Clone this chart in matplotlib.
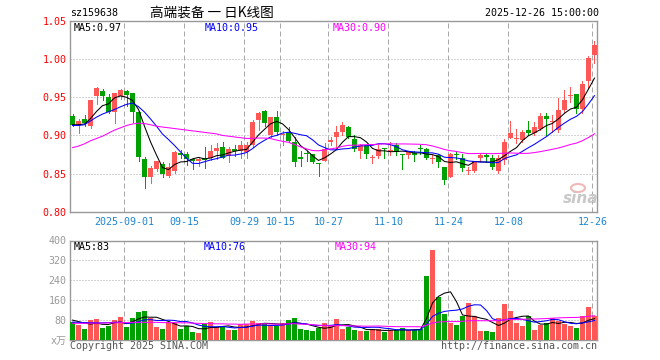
import matplotlib
matplotlib.use("Agg")
import matplotlib.pyplot as plt
import numpy as np
import pandas as pd
from matplotlib.patches import Ellipse

# ---------------- data ----------------
code = "sz159638"
title = "高端装备 一 日K线图"
timestamp = "2025-12-26 15:00:00"

opens = [0.926, 0.914, 0.921, 0.912, 0.952, 0.958, 0.950, 0.931, 0.952, 0.958,
         0.955, 0.931, 0.869, 0.845, 0.856, 0.863, 0.847, 0.853, 0.877, 0.875,
         0.869, 0.866, 0.871, 0.871, 0.880, 0.885, 0.873, 0.882, 0.879, 0.878,
         0.887, 0.920, 0.932, 0.900, 0.924, 0.900, 0.904, 0.891, 0.872, 0.876,
         0.875, 0.863, 0.867, 0.891, 0.898, 0.904, 0.911, 0.895, 0.880, 0.887,
         0.871, 0.873, 0.884, 0.880, 0.887, 0.875, 0.874, 0.877, 0.883, 0.882,
         0.869, 0.874, 0.859, 0.846, 0.875, 0.871, 0.854, 0.853, 0.870, 0.874,
         0.871, 0.854, 0.868, 0.897, 0.895, 0.894, 0.907, 0.903, 0.909, 0.925,
         0.917, 0.907, 0.933, 0.952, 0.954, 0.934, 0.971, 1.006]
highs = [0.928, 0.922, 0.927, 0.947, 0.964, 0.961, 0.954, 0.956, 0.961, 0.960,
         0.956, 0.932, 0.872, 0.860, 0.867, 0.865, 0.864, 0.879, 0.881, 0.878,
         0.871, 0.871, 0.885, 0.887, 0.890, 0.891, 0.885, 0.887, 0.893, 0.891,
         0.920, 0.931, 0.933, 0.924, 0.932, 0.906, 0.911, 0.898, 0.880, 0.879,
         0.876, 0.863, 0.890, 0.898, 0.912, 0.917, 0.912, 0.900, 0.889, 0.887,
         0.874, 0.887, 0.884, 0.891, 0.890, 0.875, 0.880, 0.880, 0.887, 0.883,
         0.874, 0.876, 0.859, 0.877, 0.880, 0.876, 0.858, 0.867, 0.877, 0.877,
         0.874, 0.874, 0.895, 0.919, 0.908, 0.907, 0.919, 0.918, 0.929, 0.930,
         0.927, 0.949, 0.960, 0.964, 0.954, 0.971, 1.004, 1.024]
lows = [0.912, 0.903, 0.913, 0.910, 0.941, 0.947, 0.929, 0.916, 0.948, 0.938,
        0.918, 0.867, 0.831, 0.838, 0.853, 0.846, 0.845, 0.851, 0.871, 0.861,
        0.856, 0.860, 0.857, 0.868, 0.869, 0.870, 0.865, 0.873, 0.871, 0.871,
        0.885, 0.907, 0.913, 0.898, 0.900, 0.887, 0.891, 0.860, 0.860, 0.867,
        0.864, 0.847, 0.867, 0.887, 0.882, 0.900, 0.896, 0.880, 0.871, 0.871,
        0.864, 0.871, 0.870, 0.874, 0.874, 0.856, 0.871, 0.867, 0.876, 0.869,
        0.864, 0.858, 0.836, 0.845, 0.869, 0.854, 0.849, 0.852, 0.867, 0.865,
        0.856, 0.851, 0.862, 0.896, 0.890, 0.892, 0.900, 0.900, 0.907, 0.900,
        0.904, 0.905, 0.931, 0.944, 0.930, 0.929, 0.962, 0.995]
closes = [0.914, 0.919, 0.916, 0.946, 0.962, 0.952, 0.931, 0.955, 0.959, 0.953,
          0.931, 0.872, 0.845, 0.857, 0.866, 0.849, 0.859, 0.878, 0.874, 0.869,
          0.866, 0.869, 0.868, 0.880, 0.884, 0.871, 0.882, 0.879, 0.888, 0.888,
          0.918, 0.930, 0.916, 0.924, 0.904, 0.902, 0.893, 0.865, 0.869, 0.875,
          0.865, 0.862, 0.882, 0.894, 0.904, 0.914, 0.898, 0.882, 0.887, 0.876,
          0.872, 0.882, 0.882, 0.881, 0.878, 0.874, 0.878, 0.874, 0.882, 0.870,
          0.870, 0.865, 0.842, 0.876, 0.874, 0.857, 0.855, 0.867, 0.874, 0.872,
          0.858, 0.871, 0.892, 0.903, 0.896, 0.904, 0.903, 0.911, 0.925, 0.922,
          0.918, 0.933, 0.947, 0.953, 0.934, 0.968, 1.002, 1.019]
volumes = [72, 59, 44, 80, 84, 48, 56, 80, 92, 52,
           88, 112, 118, 88, 52, 44, 72, 68, 44, 56,
           32, 28, 64, 72, 54, 54, 40, 40, 64, 64,
           76, 68, 64, 60, 56, 68, 80, 88, 44, 40,
           36, 48, 68, 60, 84, 44, 54, 40, 36, 36,
           44, 44, 32, 40, 40, 48, 40, 40, 44, 258,
           362, 173, 105, 70, 60, 96, 150, 98, 36, 36,
           32, 90, 145, 118, 68, 56, 96, 40, 60, 68,
           88, 76, 64, 56, 48, 96, 133, 96]

# moving-average values before enough visible history exists
ma5_head = [0.914, 0.914, 0.915, 0.922]
ma10_head = [0.913, 0.913, 0.914, 0.919, 0.924, 0.928, 0.931, 0.934, 0.9375]
ma30_head = [0.884, 0.886, 0.889, 0.893, 0.896, 0.899, 0.903, 0.907, 0.910, 0.913,
             0.915, 0.916, 0.9155, 0.914, 0.912, 0.911, 0.910, 0.909, 0.908, 0.907,
             0.906, 0.905, 0.904, 0.903, 0.902, 0.900, 0.899, 0.898, 0.897]
vma5_head = [80, 74, 68, 64]
vma10_head = [72, 71, 70, 70, 69, 69, 70, 71, 72]
vma30_head = [67, 67, 67, 68, 68, 68, 69, 69, 70, 70, 71, 71, 71, 71, 71, 70, 70, 70,
              69, 69, 68, 67, 66, 66, 65, 65, 64, 64, 63]

price_ma_labels = ["MA5:0.97", "MA10:0.95", "MA30:0.90"]
vol_ma_labels = ["MA5:83", "MA10:76", "MA30:94"]

date_labels = ["2025-09-01", "09-15", "09-29", "10-15", "10-27", "11-10", "11-24", "12-08", "12-26"]
date_idx = [9, 19, 29, 35, 43, 53, 63, 73, 87]
price_ticks = [0.80, 0.85, 0.90, 0.95, 1.00, 1.05]
vol_ticks = [0, 80, 160, 240, 320, 400]
vol_tick_labels = ["x万", "80", "160", "240", "320", "400"]

# ---------------- style ----------------
RED = "#ff5656"
GREEN = "#00a000"
MONO = ["DejaVu Sans Mono", "Noto Sans CJK SC"]
W, H = 660, 360
LW = 0.75

def ma(series, n, head):
    s = pd.Series(series, dtype=float).rolling(n).mean().to_numpy()
    s[:len(head)] = head
    return s

fig = plt.figure(figsize=(W / 100, H / 100), dpi=100)
fig.patch.set_facecolor("white")

def px_axes(l, t, r, b):
    return fig.add_axes([l / W, 1 - b / H, (r - l) / W, (b - t) / H])

ax = px_axes(70, 21, 597, 211.7)
axv = px_axes(70, 240.5, 597, 340)

n = len(closes)
x = np.arange(n)
o = np.array(opens); c = np.array(closes); hi = np.array(highs); lo = np.array(lows)
up = c >= o
cols = np.where(up, RED, GREEN)
xl = (-0.4167, n - 1 + 0.4167)

# candles
ax.vlines(x, lo, hi, colors=cols, linewidth=0.72, antialiased=False, zorder=2)
body_b = np.minimum(o, c)
body_h = np.maximum(np.abs(c - o), 0.0013)
ax.bar(x, body_h, bottom=body_b, width=0.8334, color=cols, linewidth=0,
       antialiased=False, zorder=3)

ax.plot(x, ma(closes, 5, ma5_head), color="black", lw=LW, zorder=4)
ax.plot(x, ma(closes, 10, ma10_head), color="#0000ff", lw=LW, zorder=4)
ax.plot(x, ma(closes, 30, ma30_head), color="#ff00ff", lw=LW, zorder=4)

ax.set_xlim(*xl)
ax.set_ylim(0.80, 1.05)

# volume
axv.bar(x, volumes, width=0.8334, color=cols, linewidth=0, antialiased=False, zorder=3)
axv.plot(x, ma(volumes, 5, vma5_head), color="black", lw=LW, zorder=4)
axv.plot(x, ma(volumes, 10, vma10_head), color="#0000ff", lw=LW, zorder=4)
axv.plot(x, ma(volumes, 30, vma30_head), color="#ff00ff", lw=LW, zorder=4)
axv.set_xlim(*xl)
axv.set_ylim(0, 400)

for a in (ax, axv):
    for s in a.spines.values():
        s.set_color("#999999")
        s.set_linewidth(1.0)
    a.set_xticks([])
    a.tick_params(axis="y", length=0, pad=2.5, labelsize=7.2)
    for gi in date_idx:
        a.axvline(gi - 0.36, color="#aaaaaa", lw=0.72, ls=(0, (5, 3)), zorder=1)

for yv in [0.85, 0.90, 0.95, 1.00]:
    ax.axhline(yv, color="#aaaaaa", lw=0.72, ls=(0, (1, 2)), zorder=1)
for yv in [80, 160, 240, 320]:
    axv.axhline(yv, color="#aaaaaa", lw=0.72, ls=(0, (1, 2)), zorder=1)

ax.set_yticks(price_ticks)
ax.set_yticklabels([f"{v:.2f}" for v in price_ticks], color="#ff0000", family=MONO)
axv.set_yticks(vol_ticks)
axv.set_yticklabels(vol_tick_labels, color="#999999", family=MONO)

# date labels
for lab, gi in zip(date_labels, date_idx):
    ax.text(gi - 0.36, -0.052, lab, transform=ax.get_xaxis_transform(),
            ha="center", va="center", color="#1e86cf", fontsize=7.2, family=MONO)

def ftext(px, py, s, **kw):
    fig.text(px / W, 1 - py / H, s, **kw)

# header
ftext(70, 13, code, ha="left", va="center", fontsize=7.2, family=MONO, color="black")
ftext(150, 13, title, ha="left", va="center", fontsize=9.8,
      family=["Noto Sans CJK SC", "DejaVu Sans"], color="black")
ftext(599, 13, timestamp, ha="right", va="center", fontsize=7.2, family=MONO, color="black")

# MA legends
for (s, col, px) in zip(price_ma_labels, ["black", "#0000ff", "#ff00ff"], [74, 205, 333]):
    ftext(px, 28, s, ha="left", va="center", fontsize=7.2, family=MONO, color=col)
for (s, col, px) in zip(vol_ma_labels, ["black", "#0000ff", "#ff00ff"], [74, 204, 335]):
    ftext(px, 247, s, ha="left", va="center", fontsize=7.2, family=MONO, color=col)

# footer
ftext(70, 346, "Copyright 2025 SINA.COM", ha="left", va="center", fontsize=7.2,
      family=MONO, color="#555555")
ftext(597, 346, "http://finance.sina.com.cn", ha="right", va="center", fontsize=7.2,
      family=MONO, color="#555555")

# sina watermark
ftext(581, 198, "sina", ha="center", va="center", fontsize=11, style="italic",
      weight="bold", color="#c8c8c8", family="DejaVu Sans")
fig.add_artist(Ellipse((578 / W, 1 - 188 / H), 14 / W, 8 / H, transform=fig.transFigure,
                       facecolor="none", edgecolor="#f2b8b8", lw=1.5))

fig.savefig("out.png", dpi=100)
